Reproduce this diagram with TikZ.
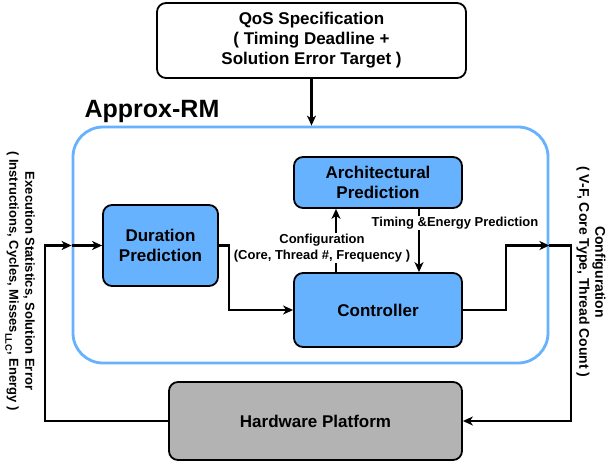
\documentclass[tikz,border=0pt]{standalone}
\usepackage{fontspec}
\setmainfont{Liberation Sans}
\usetikzlibrary{arrows.meta}
\definecolor{boxblue}{HTML}{66B2FF}
\definecolor{hwgray}{HTML}{B3B3B3}
\begin{document}
\begin{tikzpicture}[x=1pt,y=-1pt,
  blk/.style={draw=black, line width=1.8pt, rounded corners=9pt, fill=boxblue,
    font=\fontsize{17}{20}\selectfont\bfseries, align=center, inner sep=0pt},
  conn/.style={draw=black, line width=2.3pt},
  arr/.style={conn, -{Stealth[length=10pt,width=9pt,inset=3pt]}},
  lbl/.style={font=\fontsize{13}{16.5}\selectfont\bfseries, align=center, fill=white, inner sep=1pt},
  side/.style={font=\fontsize{13}{16}\selectfont\bfseries, align=center, inner sep=0pt}]
\useasboundingbox (0,0) rectangle (607,463);
\clip (0,0) rectangle (607,463);
\fill[white] (0,0) rectangle (607,463);

% containers and blocks
\node[draw=boxblue, line width=2.8pt, rounded corners=30pt, minimum width=475pt, minimum height=236pt, inner sep=0pt] (bigbox) at (310.5,245) {};
\node[font=\fontsize{25}{28}\selectfont\bfseries, anchor=base] (title) at (152,117) {Approx-RM};

\node[blk, fill=white, minimum width=309pt, minimum height=75pt] (qos) at (311.5,40.5)
  {QoS Specification\\( Timing Deadline +\\Solution Error Target )};
\node[blk, minimum width=115pt, minimum height=81pt] (dur) at (160.5,245.5) {Duration\\Prediction};
\node[blk, minimum width=168pt, minimum height=51pt] (arch) at (378,182.5) {Architectural\\Prediction};
\node[blk, minimum width=168pt, minimum height=74pt] (ctrl) at (378,310) {Controller};
\node[blk, fill=hwgray, minimum width=293pt, minimum height=78pt] (hw) at (315.5,421) {Hardware Platform};

% coordinates
\coordinate (inL) at (bigbox.west |- dur.east);
\coordinate (outR) at (bigbox.east |- dur.east);
\coordinate (cornerL) at (45,245.5);
\coordinate (cornerR) at (571,245.5);

% connectors
\draw[arr] (qos.south) -- (qos.south |- bigbox.north);
\draw[arr] (dur.east) -- ++(10,0) |- (ctrl.west);
\draw[arr] (hw.west) -| (cornerL) -- (inL);
\draw[arr] (inL) -- (dur.west);
\draw[arr] (ctrl.east) -- ++(43,0) |- (outR);
\draw[arr] (outR) -- (cornerR) |- (hw.east);
\draw[arr] ([xshift=-42pt]ctrl.north) -- ([xshift=-42pt]arch.south);
\draw[arr] ([xshift=41pt]arch.south) -- ([xshift=41pt]ctrl.north);

% labels
\node[lbl] (cfglbl) at (322,248) {Configuration\\(Core, Thread \#, Frequency )};
\node[lbl] (timlbl) at (455,223) {Timing \&Energy Prediction};

\node[side, rotate=-90] (leftlbl) at (20,281)
  {Execution Statistics, Solution Error\\( Instructions, Cycles, Misses\raisebox{-0.3em}{\fontsize{9.5}{10}\selectfont LLC}, Energy )};
\node[side, font=\fontsize{14}{16}\selectfont\bfseries, rotate=-90] (rightlbl) at (591,272)
  {Configuration\\( V-F, Core Type, Thread Count )};
\end{tikzpicture}
\end{document}
